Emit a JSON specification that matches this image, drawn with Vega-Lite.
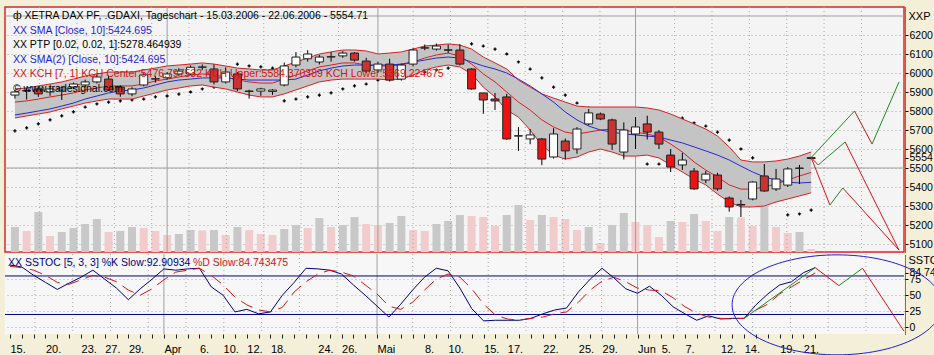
{
"$schema": "https://vega.github.io/schema/vega-lite/v6.json",
"background": "#F4EFD8",
"padding": {"left": 3, "top": 5, "right": 0, "bottom": 0},
"spacing": 2,
"bounds": "flush",
"config": {
  "font": "Liberation Sans",
  "view": {"stroke": null},
  "axis": {"labelFont": "Liberation Sans", "labelFontSize": 11, "labelColor": "#000000", "titleFont": "Liberation Sans", "titleFontSize": 11, "titleFontWeight": "normal", "titleColor": "#000000", "tickColor": "#000000", "domainColor": "#000000"}
},
"datasets": {
"bars": [
{"i":0,"o":5884,"h":5910,"l":5865,"c":5900,"t":"up","vol":100,"vt":"g","u":5916,"m":5847,"lo":5763,"s":5779,"sar":5695,"k":97,"d":95},
{"i":1,"o":5905,"h":5920,"l":5860,"c":5908,"t":"up","vol":84,"vt":"p","u":5921,"m":5853,"lo":5774,"s":5789,"sar":5711,"k":94,"d":93},
{"i":2,"o":5916,"h":5925,"l":5875,"c":5890,"t":"dn","vol":160,"vt":"g","u":5932,"m":5863,"lo":5784,"s":5800,"sar":5732,"k":81,"d":89},
{"i":3,"o":5900,"h":5925,"l":5880,"c":5916,"t":"up","vol":64,"vt":"p","u":5942,"m":5874,"lo":5795,"s":5811,"sar":5753,"k":70,"d":81},
{"i":4,"o":5911,"h":5930,"l":5858,"c":5921,"t":"up","vol":80,"vt":"g","u":5953,"m":5884,"lo":5811,"s":5826,"sar":5774,"k":59,"d":70},
{"i":5,"o":5926,"h":5950,"l":5915,"c":5942,"t":"up","vol":96,"vt":"g","u":5968,"m":5895,"lo":5826,"s":5842,"sar":5795,"k":69,"d":67},
{"i":6,"o":5937,"h":5965,"l":5925,"c":5953,"t":"up","vol":112,"vt":"g","u":5984,"m":5911,"lo":5842,"s":5863,"sar":5821,"k":78,"d":74},
{"i":7,"o":5953,"h":5990,"l":5945,"c":5979,"t":"up","vol":132,"vt":"g","u":5995,"m":5921,"lo":5853,"s":5879,"sar":5837,"k":89,"d":81},
{"i":8,"o":5968,"h":5985,"l":5905,"c":5911,"t":"dn","vol":80,"vt":"p","u":6005,"m":5932,"lo":5863,"s":5895,"sar":5847,"k":75,"d":78},
{"i":9,"o":5926,"h":5935,"l":5875,"c":5890,"t":"dn","vol":84,"vt":"g","u":6005,"m":5932,"lo":5863,"s":5905,"sar":5853,"k":61,"d":71},
{"i":10,"o":5890,"h":5925,"l":5878,"c":5916,"t":"up","vol":100,"vt":"g","u":6005,"m":5932,"lo":5863,"s":5911,"sar":5858,"k":43,"d":58},
{"i":11,"o":5937,"h":5998,"l":5930,"c":5990,"t":"up","vol":96,"vt":"p","u":6016,"m":5942,"lo":5879,"s":5921,"sar":5863,"k":60,"d":50},
{"i":12,"o":5968,"h":5985,"l":5950,"c":5970,"t":"up","vol":84,"vt":"p","u":6026,"m":5958,"lo":5895,"s":5937,"sar":5874,"k":75,"d":60},
{"i":13,"o":5975,"h":6005,"l":5965,"c":5995,"t":"up","vol":68,"vt":"p","u":6037,"m":5968,"lo":5911,"s":5953,"sar":5879,"k":91,"d":74},
{"i":14,"o":5995,"h":6025,"l":5985,"c":6010,"t":"up","vol":72,"vt":"g","u":6042,"m":5979,"lo":5921,"s":5963,"sar":5889,"k":89,"d":86},
{"i":15,"o":5995,"h":6040,"l":5990,"c":6030,"t":"up","vol":88,"vt":"g","u":6047,"m":5989,"lo":5932,"s":5968,"sar":5900,"k":91,"d":89},
{"i":16,"o":6030,"h":6045,"l":6015,"c":6032,"t":"up","vol":86,"vt":"p","u":6053,"m":5995,"lo":5937,"s":5974,"sar":5916,"k":92,"d":92},
{"i":17,"o":6021,"h":6045,"l":5940,"c":5953,"t":"dn","vol":88,"vt":"g","u":6047,"m":5989,"lo":5926,"s":5974,"sar":5926,"k":63,"d":81},
{"i":18,"o":5953,"h":6030,"l":5945,"c":6005,"t":"up","vol":68,"vt":"p","u":6037,"m":5979,"lo":5916,"s":5974,"sar":5937,"k":50,"d":66},
{"i":19,"o":5995,"h":6005,"l":5905,"c":5916,"t":"dn","vol":100,"vt":"g","u":6026,"m":5963,"lo":5900,"s":5968,"sar":6047,"k":24,"d":47},
{"i":20,"o":5905,"h":5912,"l":5865,"c":5903,"t":"dn","vol":88,"vt":"p","u":6021,"m":5953,"lo":5884,"s":5963,"sar":6037,"k":28,"d":35},
{"i":21,"o":5905,"h":5922,"l":5880,"c":5916,"t":"up","vol":72,"vt":"p","u":6016,"m":5947,"lo":5874,"s":5963,"sar":6032,"k":21,"d":27},
{"i":22,"o":5903,"h":5915,"l":5885,"c":5910,"t":"up","vol":68,"vt":"p","u":6016,"m":5947,"lo":5874,"s":5963,"sar":6026,"k":24,"d":24},
{"i":23,"o":5937,"h":6055,"l":5930,"c":6037,"t":"up","vol":92,"vt":"g","u":6037,"m":5968,"lo":5890,"s":5963,"sar":5853,"k":50,"d":31},
{"i":24,"o":6042,"h":6110,"l":6030,"c":6084,"t":"up","vol":108,"vt":"g","u":6058,"m":5989,"lo":5911,"s":5968,"sar":5863,"k":70,"d":55},
{"i":25,"o":6075,"h":6120,"l":6060,"c":6100,"t":"up","vol":96,"vt":"p","u":6079,"m":6011,"lo":5932,"s":5989,"sar":5874,"k":92,"d":71},
{"i":26,"o":6058,"h":6095,"l":6045,"c":6084,"t":"up","vol":136,"vt":"g","u":6100,"m":6032,"lo":5953,"s":6011,"sar":5884,"k":91,"d":83},
{"i":27,"o":6084,"h":6110,"l":6060,"c":6086,"t":"up","vol":100,"vt":"p","u":6111,"m":6042,"lo":5963,"s":6026,"sar":5895,"k":89,"d":89},
{"i":28,"o":6090,"h":6115,"l":6080,"c":6105,"t":"up","vol":108,"vt":"g","u":6121,"m":6053,"lo":5968,"s":6037,"sar":5916,"k":83,"d":86},
{"i":29,"o":6105,"h":6110,"l":6060,"c":6068,"t":"dn","vol":140,"vt":"g","u":6121,"m":6053,"lo":5968,"s":6042,"sar":5932,"k":66,"d":80},
{"i":30,"o":6063,"h":6080,"l":6000,"c":6010,"t":"dn","vol":112,"vt":"p","u":6116,"m":6042,"lo":5968,"s":6042,"sar":5942,"k":50,"d":66},
{"i":31,"o":6016,"h":6060,"l":6000,"c":6047,"t":"up","vol":108,"vt":"p","u":6100,"m":6037,"lo":5968,"s":6042,"sar":5963,"k":33,"d":52},
{"i":32,"o":6047,"h":6075,"l":5955,"c":5963,"t":"dn","vol":116,"vt":"g","u":6105,"m":6037,"lo":5963,"s":6042,"sar":5974,"k":16,"d":33},
{"i":33,"o":5968,"h":6050,"l":5960,"c":6042,"t":"up","vol":144,"vt":"g","u":6111,"m":6042,"lo":5968,"s":6047,"sar":5984,"k":36,"d":28},
{"i":34,"o":6047,"h":6130,"l":6035,"c":6121,"t":"up","vol":88,"vt":"p","u":6126,"m":6058,"lo":5989,"s":6058,"sar":5995,"k":58,"d":39},
{"i":35,"o":6131,"h":6150,"l":6120,"c":6133,"t":"up","vol":84,"vt":"p","u":6142,"m":6079,"lo":6016,"s":6068,"sar":6005,"k":78,"d":58},
{"i":36,"o":6126,"h":6155,"l":6118,"c":6142,"t":"up","vol":112,"vt":"g","u":6147,"m":6095,"lo":6032,"s":6079,"sar":6016,"k":92,"d":75},
{"i":37,"o":6122,"h":6150,"l":6105,"c":6120,"t":"dn","vol":124,"vt":"g","u":6153,"m":6105,"lo":6042,"s":6084,"sar":6026,"k":88,"d":83},
{"i":38,"o":6121,"h":6152,"l":6040,"c":6047,"t":"dn","vol":148,"vt":"g","u":6147,"m":6089,"lo":6032,"s":6079,"sar":null,"k":61,"d":78},
{"i":39,"o":6021,"h":6025,"l":5912,"c":5916,"t":"dn2","vol":144,"vt":"p","u":6126,"m":6047,"lo":5995,"s":6058,"sar":6153,"k":29,"d":60},
{"i":40,"o":5895,"h":5895,"l":5785,"c":5858,"t":"dn","vol":140,"vt":"p","u":6084,"m":5995,"lo":5926,"s":6037,"sar":6142,"k":10,"d":36},
{"i":41,"o":5863,"h":5895,"l":5805,"c":5853,"t":"dn","vol":104,"vt":"p","u":6053,"m":5953,"lo":5874,"s":6021,"sar":6126,"k":11,"d":19},
{"i":42,"o":5874,"h":5890,"l":5648,"c":5653,"t":"dn2","vol":148,"vt":"g","u":6021,"m":5900,"lo":5805,"s":6000,"sar":6100,"k":11,"d":13},
{"i":43,"o":5668,"h":5715,"l":5590,"c":5670,"t":"up","vol":188,"vt":"g","u":5963,"m":5847,"lo":5768,"s":5968,"sar":6058,"k":11,"d":11},
{"i":44,"o":5653,"h":5705,"l":5625,"c":5674,"t":"up","vol":128,"vt":"p","u":5926,"m":5805,"lo":5700,"s":5932,"sar":6021,"k":14,"d":14},
{"i":45,"o":5653,"h":5658,"l":5515,"c":5547,"t":"dn2","vol":148,"vt":"g","u":5890,"m":5753,"lo":5621,"s":5890,"sar":5974,"k":21,"d":16},
{"i":46,"o":5558,"h":5710,"l":5550,"c":5679,"t":"up","vol":140,"vt":"p","u":5868,"m":5716,"lo":5568,"s":5847,"sar":5926,"k":27,"d":21},
{"i":47,"o":5642,"h":5655,"l":5545,"c":5590,"t":"dn","vol":132,"vt":"p","u":5847,"m":5689,"lo":5547,"s":5795,"sar":5884,"k":30,"d":24},
{"i":48,"o":5600,"h":5715,"l":5575,"c":5705,"t":"up","vol":88,"vt":"p","u":5826,"m":5679,"lo":5558,"s":5753,"sar":5842,"k":55,"d":39},
{"i":49,"o":5732,"h":5810,"l":5725,"c":5790,"t":"up","vol":100,"vt":"g","u":5821,"m":5689,"lo":5584,"s":5721,"sar":5816,"k":75,"d":58},
{"i":50,"o":5784,"h":5792,"l":5752,"c":5758,"t":"dn","vol":36,"vt":"p","u":5821,"m":5700,"lo":5600,"s":5700,"sar":5789,"k":92,"d":72},
{"i":51,"o":5753,"h":5760,"l":5595,"c":5626,"t":"dn","vol":108,"vt":"g","u":5821,"m":5705,"lo":5584,"s":5689,"sar":5763,"k":77,"d":78},
{"i":52,"o":5584,"h":5740,"l":5545,"c":5700,"t":"up","vol":156,"vt":"g","u":5821,"m":5700,"lo":5563,"s":5679,"sar":5732,"k":60,"d":71},
{"i":53,"o":5679,"h":5768,"l":5600,"c":5716,"t":"up","vol":120,"vt":"p","u":5821,"m":5689,"lo":5563,"s":5674,"sar":5716,"k":53,"d":61},
{"i":54,"o":5732,"h":5775,"l":5650,"c":5689,"t":"dn","vol":108,"vt":"p","u":5816,"m":5679,"lo":5568,"s":5668,"sar":5521,"k":64,"d":58},
{"i":55,"o":5689,"h":5700,"l":5600,"c":5626,"t":"dn","vol":60,"vt":"p","u":5805,"m":5663,"lo":5553,"s":5663,"sar":5521,"k":50,"d":57},
{"i":56,"o":5568,"h":5600,"l":5479,"c":5505,"t":"dn2","vol":124,"vt":"g","u":5784,"m":5626,"lo":5516,"s":5647,"sar":5774,"k":32,"d":46},
{"i":57,"o":5516,"h":5580,"l":5490,"c":5542,"t":"up","vol":120,"vt":"p","u":5758,"m":5584,"lo":5479,"s":5632,"sar":5763,"k":21,"d":32},
{"i":58,"o":5484,"h":5500,"l":5385,"c":5390,"t":"dn2","vol":152,"vt":"g","u":5732,"m":5532,"lo":5442,"s":5611,"sar":5737,"k":11,"d":22},
{"i":59,"o":5437,"h":5485,"l":5420,"c":5468,"t":"up","vol":124,"vt":"p","u":5705,"m":5489,"lo":5411,"s":5590,"sar":5721,"k":18,"d":16},
{"i":60,"o":5463,"h":5475,"l":5380,"c":5390,"t":"dn","vol":84,"vt":"p","u":5668,"m":5453,"lo":5363,"s":5568,"sar":5689,"k":13,"d":14},
{"i":61,"o":5342,"h":5350,"l":5270,"c":5295,"t":"dn2","vol":140,"vt":"g","u":5611,"m":5411,"lo":5321,"s":5542,"sar":5647,"k":14,"d":13},
{"i":62,"o":5305,"h":5332,"l":5242,"c":5308,"t":"up","vol":138,"vt":"p","u":5542,"m":5389,"lo":5295,"s":5510,"sar":5600,"k":14,"d":14},
{"i":63,"o":5337,"h":5430,"l":5330,"c":5426,"t":"up","vol":104,"vt":"p","u":5532,"m":5389,"lo":5295,"s":5479,"sar":5553,"k":35,"d":27},
{"i":64,"o":5458,"h":5521,"l":5375,"c":5379,"t":"dn","vol":184,"vt":"g","u":5532,"m":5400,"lo":5300,"s":5453,"sar":null,"k":52,"d":36},
{"i":65,"o":5390,"h":5495,"l":5379,"c":5442,"t":"up","vol":100,"vt":"p","u":5537,"m":5416,"lo":5321,"s":5437,"sar":null,"k":66,"d":52},
{"i":66,"o":5410,"h":5505,"l":5400,"c":5495,"t":"up","vol":76,"vt":"p","u":5547,"m":5437,"lo":5337,"s":5426,"sar":5253,"k":71,"d":63},
{"i":67,"o":5498,"h":5516,"l":5416,"c":5500,"t":"up","vol":80,"vt":"g","u":5563,"m":5458,"lo":5353,"s":5421,"sar":5258,"k":85,"d":74},
{"i":68,"o":5550,"h":5560,"l":5545,"c":5554.71,"t":"up","vol":12,"vt":"p","u":5584.37,"m":5476.8,"lo":5369.22,"s":5424.7,"sar":5278.46,"k":92.91,"d":84.74}
],
"fcp": [
{"seg":"a1","dir":"up","i":68,"p":5555},{"seg":"a1","dir":"up","i":71.7,"p":5800},
{"seg":"a2","dir":"dn","i":71.7,"p":5800},{"seg":"a2","dir":"dn","i":73.2,"p":5626},
{"seg":"a3","dir":"up","i":73.2,"p":5626},{"seg":"a3","dir":"up","i":75.5,"p":5953},
{"seg":"b1","dir":"dn","i":68,"p":5555},{"seg":"b1","dir":"dn","i":68.6,"p":5516},
{"seg":"b2","dir":"up","i":68.6,"p":5516},{"seg":"b2","dir":"up","i":70.9,"p":5637},
{"seg":"b3","dir":"dn","i":70.9,"p":5637},{"seg":"b3","dir":"dn","i":75.5,"p":5068},
{"seg":"c1","dir":"dn","i":68,"p":5555},{"seg":"c1","dir":"dn","i":69.6,"p":5305},
{"seg":"c2","dir":"up","i":69.6,"p":5305},{"seg":"c2","dir":"up","i":70.7,"p":5395},
{"seg":"c3","dir":"dn","i":70.7,"p":5395},{"seg":"c3","dir":"dn","i":75.5,"p":5068}
],
"fcs": [
{"seg":"s1","dir":"up","i":62,"v":14},{"seg":"s1","dir":"up","i":68,"v":92.91},
{"seg":"s2","dir":"dn","i":68,"v":92.91},{"seg":"s2","dir":"dn","i":70,"v":65},
{"seg":"s3","dir":"up","i":70,"v":65},{"seg":"s3","dir":"up","i":72,"v":92},
{"seg":"s4","dir":"dn","i":72,"v":92},{"seg":"s4","dir":"dn","i":75.5,"v":-6}
],
"legendtxt": [
{"line":0,"k":"k","t":"ф XETRA DAX PF, .GDAXI, Tageschart - 15.03.2006 - 22.06.2006 - 5554.71"},
{"line":1,"k":"b","t":"XX SMA [Close, 10]:5424.695"},
{"line":2,"k":"k","t":"XX PTP [0.02, 0.02, 1]:5278.464939"},
{"line":3,"k":"b","t":"XX SMA(2) [Close, 10]:5424.695"},
{"line":4,"k":"r","t":"XX KCH [7, 1] KCH Center:5476.797532 KCH Upper:5584.370389 KCH Lower:5369.224675"},
{"line":5,"k":"k","t":"© www.tradesignal.com"}
],
"months": [{"i":13},{"i":31},{"i":53}],
"vgrid": [{"i":2.11},{"i":5.3},{"i":8.49},{"i":11.68},{"i":14.87},{"i":18.06},{"i":21.25},{"i":24.44},{"i":27.63},{"i":34.01},{"i":37.2},{"i":40.39},{"i":43.58},{"i":46.77},{"i":49.96},{"i":56.34},{"i":59.53},{"i":62.72},{"i":65.91},{"i":69.1},{"i":72.29}]
},
"vconcat": [
{
 "width": 899, "height": 245,
 "view": {"fill": "#F4F4F4", "stroke": "#D42828", "strokeWidth": 1.5},
 "layer": [
  {
   "data": {"name": "bars"},
   "mark": {"type": "bar", "width": 8},
   "encoding": {
     "x": {"field": "i", "type": "quantitative", "scale": {"domain": [-0.42, 75.5], "nice": false, "zero": false}, "axis": null},
     "y": {"field": "vol", "type": "quantitative", "scale": {"domain": [0, 980], "nice": false}, "axis": null},
     "fill": {"field": "vt", "type": "nominal", "scale": {"domain": ["g", "p"], "range": ["#C8C8C8", "#F0CCCC"]}, "legend": null}
   }
  },
  {
   "layer": [
    {
     "data": {"name": "months"},
     "mark": {"type": "rule", "color": "#A0A0A0", "strokeWidth": 1},
     "encoding": {"x": {"field": "i", "type": "quantitative", "scale": {"domain": [-0.42, 75.5], "nice": false, "zero": false}, "axis": null}}
    },
    {
     "data": {"name": "vgrid"},
     "mark": {"type": "rule", "color": "#A8A8A8", "strokeWidth": 1, "strokeDash": [1, 3]},
     "encoding": {"x": {"field": "i", "type": "quantitative", "scale": {"domain": [-0.42, 75.5], "nice": false, "zero": false}, "axis": null}}
    },
    {
     "data": {"values": [{"p": 5500}, {"p": 6300}]},
     "mark": {"type": "rule", "color": "#A0A0A0", "strokeWidth": 1},
     "encoding": {"y": {"field": "p", "type": "quantitative", "scale": {"domain": [5057.9, 6347.4], "nice": false, "zero": false},
       "axis": {"orient": "right", "values": [5100, 5200, 5300, 5400, 5500, 5554.71, 5600, 5700, 5800, 5900, 6000, 6100, 6200], "labelExpr": "datum.value == 5554.71 ? '5554' : format(datum.value, 'd')", "grid": true, "gridDash": [1, 3], "gridColor": "#A8A8A8", "gridOpacity": {"condition": {"test": "datum.value == 5554.71", "value": 0}, "value": 1}, "tickSize": 3, "offset": 1, "labelPadding": 1, "labelFontSize": 10.5, "labelOverlap": false, "labelFlush": false, "labelBound": false, "domain": true, "domainDash": [1, 1], "title": "XXP", "titleAngle": 0, "titleAlign": "left", "titleBaseline": "middle", "titleX": 3, "titleY": 9}}}
    },
    {
     "data": {"name": "bars"},
     "mark": {"type": "point", "shape": "cross", "filled": true, "size": 10, "color": "#000000", "opacity": 1},
     "encoding": {"x": {"field": "i", "type": "quantitative", "scale": {"domain": [-0.42, 75.5], "nice": false, "zero": false}, "axis": null},
       "y": {"field": "sar", "type": "quantitative", "scale": {"domain": [5057.9, 6347.4], "nice": false, "zero": false},
       "axis": {"orient": "right", "values": [5100, 5200, 5300, 5400, 5500, 5554.71, 5600, 5700, 5800, 5900, 6000, 6100, 6200], "labelExpr": "datum.value == 5554.71 ? '5554' : format(datum.value, 'd')", "grid": true, "gridDash": [1, 3], "gridColor": "#A8A8A8", "gridOpacity": {"condition": {"test": "datum.value == 5554.71", "value": 0}, "value": 1}, "tickSize": 3, "offset": 1, "labelPadding": 1, "labelFontSize": 10.5, "labelOverlap": false, "labelFlush": false, "labelBound": false, "domain": true, "domainDash": [1, 1], "title": "XXP", "titleAngle": 0, "titleAlign": "left", "titleBaseline": "middle", "titleX": 3, "titleY": 9}}}
    },
    {
     "data": {"name": "bars"},
     "mark": {"type": "area", "color": "#C4C4C4", "opacity": 1},
     "encoding": {"x": {"field": "i", "type": "quantitative", "scale": {"domain": [-0.42, 75.5], "nice": false, "zero": false}, "axis": null},
       "y": {"field": "lo", "type": "quantitative", "scale": {"domain": [5057.9, 6347.4], "nice": false, "zero": false},
       "axis": {"orient": "right", "values": [5100, 5200, 5300, 5400, 5500, 5554.71, 5600, 5700, 5800, 5900, 6000, 6100, 6200], "labelExpr": "datum.value == 5554.71 ? '5554' : format(datum.value, 'd')", "grid": true, "gridDash": [1, 3], "gridColor": "#A8A8A8", "gridOpacity": {"condition": {"test": "datum.value == 5554.71", "value": 0}, "value": 1}, "tickSize": 3, "offset": 1, "labelPadding": 1, "labelFontSize": 10.5, "labelOverlap": false, "labelFlush": false, "labelBound": false, "domain": true, "domainDash": [1, 1], "title": "XXP", "titleAngle": 0, "titleAlign": "left", "titleBaseline": "middle", "titleX": 3, "titleY": 9}},
       "y2": {"field": "u"}}
    },
    {
     "data": {"name": "bars"},
     "mark": {"type": "line", "color": "#D82020", "strokeWidth": 1},
     "encoding": {"x": {"field": "i", "type": "quantitative", "scale": {"domain": [-0.42, 75.5], "nice": false, "zero": false}, "axis": null},
       "y": {"field": "u", "type": "quantitative", "scale": {"domain": [5057.9, 6347.4], "nice": false, "zero": false},
       "axis": {"orient": "right", "values": [5100, 5200, 5300, 5400, 5500, 5554.71, 5600, 5700, 5800, 5900, 6000, 6100, 6200], "labelExpr": "datum.value == 5554.71 ? '5554' : format(datum.value, 'd')", "grid": true, "gridDash": [1, 3], "gridColor": "#A8A8A8", "gridOpacity": {"condition": {"test": "datum.value == 5554.71", "value": 0}, "value": 1}, "tickSize": 3, "offset": 1, "labelPadding": 1, "labelFontSize": 10.5, "labelOverlap": false, "labelFlush": false, "labelBound": false, "domain": true, "domainDash": [1, 1], "title": "XXP", "titleAngle": 0, "titleAlign": "left", "titleBaseline": "middle", "titleX": 3, "titleY": 9}}}
    },
    {
     "data": {"name": "bars"},
     "mark": {"type": "line", "color": "#D82020", "strokeWidth": 1},
     "encoding": {"x": {"field": "i", "type": "quantitative", "scale": {"domain": [-0.42, 75.5], "nice": false, "zero": false}, "axis": null},
       "y": {"field": "lo", "type": "quantitative", "scale": {"domain": [5057.9, 6347.4], "nice": false, "zero": false},
       "axis": {"orient": "right", "values": [5100, 5200, 5300, 5400, 5500, 5554.71, 5600, 5700, 5800, 5900, 6000, 6100, 6200], "labelExpr": "datum.value == 5554.71 ? '5554' : format(datum.value, 'd')", "grid": true, "gridDash": [1, 3], "gridColor": "#A8A8A8", "gridOpacity": {"condition": {"test": "datum.value == 5554.71", "value": 0}, "value": 1}, "tickSize": 3, "offset": 1, "labelPadding": 1, "labelFontSize": 10.5, "labelOverlap": false, "labelFlush": false, "labelBound": false, "domain": true, "domainDash": [1, 1], "title": "XXP", "titleAngle": 0, "titleAlign": "left", "titleBaseline": "middle", "titleX": 3, "titleY": 9}}}
    },
    {
     "data": {"name": "bars"},
     "mark": {"type": "line", "color": "#D82020", "strokeWidth": 1},
     "encoding": {"x": {"field": "i", "type": "quantitative", "scale": {"domain": [-0.42, 75.5], "nice": false, "zero": false}, "axis": null},
       "y": {"field": "m", "type": "quantitative", "scale": {"domain": [5057.9, 6347.4], "nice": false, "zero": false},
       "axis": {"orient": "right", "values": [5100, 5200, 5300, 5400, 5500, 5554.71, 5600, 5700, 5800, 5900, 6000, 6100, 6200], "labelExpr": "datum.value == 5554.71 ? '5554' : format(datum.value, 'd')", "grid": true, "gridDash": [1, 3], "gridColor": "#A8A8A8", "gridOpacity": {"condition": {"test": "datum.value == 5554.71", "value": 0}, "value": 1}, "tickSize": 3, "offset": 1, "labelPadding": 1, "labelFontSize": 10.5, "labelOverlap": false, "labelFlush": false, "labelBound": false, "domain": true, "domainDash": [1, 1], "title": "XXP", "titleAngle": 0, "titleAlign": "left", "titleBaseline": "middle", "titleX": 3, "titleY": 9}}}
    },
    {
     "data": {"name": "bars"},
     "mark": {"type": "line", "color": "#2828D0", "strokeWidth": 1},
     "encoding": {"x": {"field": "i", "type": "quantitative", "scale": {"domain": [-0.42, 75.5], "nice": false, "zero": false}, "axis": null},
       "y": {"field": "s", "type": "quantitative", "scale": {"domain": [5057.9, 6347.4], "nice": false, "zero": false},
       "axis": {"orient": "right", "values": [5100, 5200, 5300, 5400, 5500, 5554.71, 5600, 5700, 5800, 5900, 6000, 6100, 6200], "labelExpr": "datum.value == 5554.71 ? '5554' : format(datum.value, 'd')", "grid": true, "gridDash": [1, 3], "gridColor": "#A8A8A8", "gridOpacity": {"condition": {"test": "datum.value == 5554.71", "value": 0}, "value": 1}, "tickSize": 3, "offset": 1, "labelPadding": 1, "labelFontSize": 10.5, "labelOverlap": false, "labelFlush": false, "labelBound": false, "domain": true, "domainDash": [1, 1], "title": "XXP", "titleAngle": 0, "titleAlign": "left", "titleBaseline": "middle", "titleX": 3, "titleY": 9}}}
    },
    {
     "data": {"name": "bars"},
     "mark": {"type": "rule", "color": "#000000", "strokeWidth": 1},
     "encoding": {"x": {"field": "i", "type": "quantitative", "scale": {"domain": [-0.42, 75.5], "nice": false, "zero": false}, "axis": null},
       "y": {"field": "l", "type": "quantitative", "scale": {"domain": [5057.9, 6347.4], "nice": false, "zero": false},
       "axis": {"orient": "right", "values": [5100, 5200, 5300, 5400, 5500, 5554.71, 5600, 5700, 5800, 5900, 6000, 6100, 6200], "labelExpr": "datum.value == 5554.71 ? '5554' : format(datum.value, 'd')", "grid": true, "gridDash": [1, 3], "gridColor": "#A8A8A8", "gridOpacity": {"condition": {"test": "datum.value == 5554.71", "value": 0}, "value": 1}, "tickSize": 3, "offset": 1, "labelPadding": 1, "labelFontSize": 10.5, "labelOverlap": false, "labelFlush": false, "labelBound": false, "domain": true, "domainDash": [1, 1], "title": "XXP", "titleAngle": 0, "titleAlign": "left", "titleBaseline": "middle", "titleX": 3, "titleY": 9}},
       "y2": {"field": "h"}}
    },
    {
     "data": {"name": "bars"},
     "mark": {"type": "bar", "width": 8, "stroke": "#202020", "strokeWidth": 1},
     "encoding": {"x": {"field": "i", "type": "quantitative", "scale": {"domain": [-0.42, 75.5], "nice": false, "zero": false}, "axis": null},
       "y": {"field": "o", "type": "quantitative", "scale": {"domain": [5057.9, 6347.4], "nice": false, "zero": false},
       "axis": {"orient": "right", "values": [5100, 5200, 5300, 5400, 5500, 5554.71, 5600, 5700, 5800, 5900, 6000, 6100, 6200], "labelExpr": "datum.value == 5554.71 ? '5554' : format(datum.value, 'd')", "grid": true, "gridDash": [1, 3], "gridColor": "#A8A8A8", "gridOpacity": {"condition": {"test": "datum.value == 5554.71", "value": 0}, "value": 1}, "tickSize": 3, "offset": 1, "labelPadding": 1, "labelFontSize": 10.5, "labelOverlap": false, "labelFlush": false, "labelBound": false, "domain": true, "domainDash": [1, 1], "title": "XXP", "titleAngle": 0, "titleAlign": "left", "titleBaseline": "middle", "titleX": 3, "titleY": 9}},
       "y2": {"field": "c"},
       "fill": {"field": "t", "type": "nominal", "scale": {"domain": ["up", "dn", "dn2"], "range": ["#FFFFFF", "#CD3232", "#EE1111"]}, "legend": null}}
    },
    {
     "data": {"name": "fcp"},
     "mark": {"type": "line", "strokeWidth": 1},
     "encoding": {"x": {"field": "i", "type": "quantitative", "scale": {"domain": [-0.42, 75.5], "nice": false, "zero": false}, "axis": null},
       "y": {"field": "p", "type": "quantitative", "scale": {"domain": [5057.9, 6347.4], "nice": false, "zero": false},
       "axis": {"orient": "right", "values": [5100, 5200, 5300, 5400, 5500, 5554.71, 5600, 5700, 5800, 5900, 6000, 6100, 6200], "labelExpr": "datum.value == 5554.71 ? '5554' : format(datum.value, 'd')", "grid": true, "gridDash": [1, 3], "gridColor": "#A8A8A8", "gridOpacity": {"condition": {"test": "datum.value == 5554.71", "value": 0}, "value": 1}, "tickSize": 3, "offset": 1, "labelPadding": 1, "labelFontSize": 10.5, "labelOverlap": false, "labelFlush": false, "labelBound": false, "domain": true, "domainDash": [1, 1], "title": "XXP", "titleAngle": 0, "titleAlign": "left", "titleBaseline": "middle", "titleX": 3, "titleY": 9}},
       "detail": {"field": "seg"},
       "stroke": {"field": "dir", "type": "nominal", "scale": {"domain": ["up", "dn"], "range": ["#1F8A1F", "#D41414"]}, "legend": null}}
    }
   ]
  },
  {
   "data": {"name": "legendtxt"},
   "mark": {"type": "text", "align": "left", "baseline": "middle", "fontSize": 10.5, "font": "Liberation Sans"},
   "encoding": {
     "x": {"datum": -0.17, "type": "quantitative", "scale": {"domain": [-0.42, 75.5], "nice": false, "zero": false}, "axis": null},
     "y": {"field": "line", "type": "ordinal", "scale": {"type": "point", "domain": [0, 1, 2, 3, 4, 5], "range": [9, 82], "padding": 0}, "axis": null},
     "text": {"field": "t"},
     "fill": {"field": "k", "type": "nominal", "scale": {"domain": ["k", "b", "r"], "range": ["#000000", "#1E1ED2", "#D41414"]}, "legend": null}
   }
  }
 ],
 "resolve": {"scale": {"y": "independent", "fill": "independent"}}
},
{
 "width": 899, "height": 80,
 "view": {"fill": "#F7F7F7", "stroke": null},
 "layer": [
  {
   "data": {"name": "months"},
   "mark": {"type": "rule", "color": "#A0A0A0", "strokeWidth": 1},
   "encoding": {"x": {"field": "i", "type": "quantitative", "scale": {"domain": [-0.42, 75.5], "nice": false, "zero": false},
     "axis": {"orient": "bottom", "values": [0,1,2,3,4,5,6,7,8,9,10,11,12,13,14,15,16,17,18,19,20,21,22,23,24,25,26,27,28,29,30,31,32,33,34,35,36,37,38,39,40,41,42,43,44,45,46,47,48,49,50,51,52,53,54,55,56,57,58,59,60,61,62,63,64,65,66,67,68], "labelExpr": "['15.','','','20.','','','23.','','27.','','29.','','','Apr','','','6.','','10.','','12.','','18.','','','','24.','','26.','','','Mai','','','','8.','','10.','','','15.','','17.','','','22.','','','25.','','29.','','','Jun','','5.','','7.','','','12.','','14.','','','19.','','21.',''][datum.value]", "grid": false, "domain": false, "ticks": true, "tickSize": 4, "tickColor": "#202020", "labelAlign": "left", "labelBaseline": "top", "labelPadding": 5, "labelOverlap": false, "labelBound": false, "labelFlush": false, "title": null}}}
  },
  {
   "data": {"name": "vgrid"},
   "mark": {"type": "rule", "color": "#A8A8A8", "strokeWidth": 1, "strokeDash": [1, 3]},
   "encoding": {"x": {"field": "i", "type": "quantitative", "scale": {"domain": [-0.42, 75.5], "nice": false, "zero": false},
     "axis": {"orient": "bottom", "values": [0,1,2,3,4,5,6,7,8,9,10,11,12,13,14,15,16,17,18,19,20,21,22,23,24,25,26,27,28,29,30,31,32,33,34,35,36,37,38,39,40,41,42,43,44,45,46,47,48,49,50,51,52,53,54,55,56,57,58,59,60,61,62,63,64,65,66,67,68], "labelExpr": "['15.','','','20.','','','23.','','27.','','29.','','','Apr','','','6.','','10.','','12.','','18.','','','','24.','','26.','','','Mai','','','','8.','','10.','','','15.','','17.','','','22.','','','25.','','29.','','','Jun','','5.','','7.','','','12.','','14.','','','19.','','21.',''][datum.value]", "grid": false, "domain": false, "ticks": true, "tickSize": 4, "tickColor": "#202020", "labelAlign": "left", "labelBaseline": "top", "labelPadding": 5, "labelOverlap": false, "labelBound": false, "labelFlush": false, "title": null}}}
  },
  {
   "data": {"values": [{"v": 80}, {"v": 20}]},
   "mark": {"type": "rule", "color": "#000080", "strokeWidth": 1},
   "encoding": {"y": {"field": "v", "type": "quantitative", "scale": {"domain": [-10.4, 114.2], "nice": false, "zero": false},
     "axis": {"orient": "right", "values": [0, 25, 50, 75, 84.74], "labelExpr": "datum.value == 84.74 ? '84.74' : format(datum.value, 'd')", "grid": true, "gridDash": [1, 3], "gridColor": "#A8A8A8", "gridOpacity": {"condition": {"test": "datum.value == 84.74", "value": 0}, "value": 1}, "tickSize": 3, "offset": 1, "labelPadding": 1, "labelFontSize": 10.5, "labelOverlap": false, "labelFlush": false, "labelBound": false, "domain": true, "domainDash": [1, 1], "title": "SSTOC", "titleAngle": 0, "titleAlign": "left", "titleBaseline": "middle", "titleX": 3, "titleY": 6}}}
  },
  {
   "data": {"name": "bars"},
   "mark": {"type": "line", "color": "#000080", "strokeWidth": 1},
   "encoding": {"x": {"field": "i", "type": "quantitative", "scale": {"domain": [-0.42, 75.5], "nice": false, "zero": false},
     "axis": {"orient": "bottom", "values": [0,1,2,3,4,5,6,7,8,9,10,11,12,13,14,15,16,17,18,19,20,21,22,23,24,25,26,27,28,29,30,31,32,33,34,35,36,37,38,39,40,41,42,43,44,45,46,47,48,49,50,51,52,53,54,55,56,57,58,59,60,61,62,63,64,65,66,67,68], "labelExpr": "['15.','','','20.','','','23.','','27.','','29.','','','Apr','','','6.','','10.','','12.','','18.','','','','24.','','26.','','','Mai','','','','8.','','10.','','','15.','','17.','','','22.','','','25.','','29.','','','Jun','','5.','','7.','','','12.','','14.','','','19.','','21.',''][datum.value]", "grid": false, "domain": false, "ticks": true, "tickSize": 4, "tickColor": "#202020", "labelAlign": "left", "labelBaseline": "top", "labelPadding": 5, "labelOverlap": false, "labelBound": false, "labelFlush": false, "title": null}},
     "y": {"field": "k", "type": "quantitative", "scale": {"domain": [-10.4, 114.2], "nice": false, "zero": false},
     "axis": {"orient": "right", "values": [0, 25, 50, 75, 84.74], "labelExpr": "datum.value == 84.74 ? '84.74' : format(datum.value, 'd')", "grid": true, "gridDash": [1, 3], "gridColor": "#A8A8A8", "gridOpacity": {"condition": {"test": "datum.value == 84.74", "value": 0}, "value": 1}, "tickSize": 3, "offset": 1, "labelPadding": 1, "labelFontSize": 10.5, "labelOverlap": false, "labelFlush": false, "labelBound": false, "domain": true, "domainDash": [1, 1], "title": "SSTOC", "titleAngle": 0, "titleAlign": "left", "titleBaseline": "middle", "titleX": 3, "titleY": 6}}}
  },
  {
   "data": {"name": "bars"},
   "mark": {"type": "line", "color": "#D41414", "strokeWidth": 1, "strokeDash": [13, 7]},
   "encoding": {"x": {"field": "i", "type": "quantitative", "scale": {"domain": [-0.42, 75.5], "nice": false, "zero": false},
     "axis": {"orient": "bottom", "values": [0,1,2,3,4,5,6,7,8,9,10,11,12,13,14,15,16,17,18,19,20,21,22,23,24,25,26,27,28,29,30,31,32,33,34,35,36,37,38,39,40,41,42,43,44,45,46,47,48,49,50,51,52,53,54,55,56,57,58,59,60,61,62,63,64,65,66,67,68], "labelExpr": "['15.','','','20.','','','23.','','27.','','29.','','','Apr','','','6.','','10.','','12.','','18.','','','','24.','','26.','','','Mai','','','','8.','','10.','','','15.','','17.','','','22.','','','25.','','29.','','','Jun','','5.','','7.','','','12.','','14.','','','19.','','21.',''][datum.value]", "grid": false, "domain": false, "ticks": true, "tickSize": 4, "tickColor": "#202020", "labelAlign": "left", "labelBaseline": "top", "labelPadding": 5, "labelOverlap": false, "labelBound": false, "labelFlush": false, "title": null}},
     "y": {"field": "d", "type": "quantitative", "scale": {"domain": [-10.4, 114.2], "nice": false, "zero": false},
     "axis": {"orient": "right", "values": [0, 25, 50, 75, 84.74], "labelExpr": "datum.value == 84.74 ? '84.74' : format(datum.value, 'd')", "grid": true, "gridDash": [1, 3], "gridColor": "#A8A8A8", "gridOpacity": {"condition": {"test": "datum.value == 84.74", "value": 0}, "value": 1}, "tickSize": 3, "offset": 1, "labelPadding": 1, "labelFontSize": 10.5, "labelOverlap": false, "labelFlush": false, "labelBound": false, "domain": true, "domainDash": [1, 1], "title": "SSTOC", "titleAngle": 0, "titleAlign": "left", "titleBaseline": "middle", "titleX": 3, "titleY": 6}}}
  },
  {
   "data": {"name": "fcs"},
   "mark": {"type": "line", "strokeWidth": 1},
   "encoding": {"x": {"field": "i", "type": "quantitative", "scale": {"domain": [-0.42, 75.5], "nice": false, "zero": false},
     "axis": {"orient": "bottom", "values": [0,1,2,3,4,5,6,7,8,9,10,11,12,13,14,15,16,17,18,19,20,21,22,23,24,25,26,27,28,29,30,31,32,33,34,35,36,37,38,39,40,41,42,43,44,45,46,47,48,49,50,51,52,53,54,55,56,57,58,59,60,61,62,63,64,65,66,67,68], "labelExpr": "['15.','','','20.','','','23.','','27.','','29.','','','Apr','','','6.','','10.','','12.','','18.','','','','24.','','26.','','','Mai','','','','8.','','10.','','','15.','','17.','','','22.','','','25.','','29.','','','Jun','','5.','','7.','','','12.','','14.','','','19.','','21.',''][datum.value]", "grid": false, "domain": false, "ticks": true, "tickSize": 4, "tickColor": "#202020", "labelAlign": "left", "labelBaseline": "top", "labelPadding": 5, "labelOverlap": false, "labelBound": false, "labelFlush": false, "title": null}},
     "y": {"field": "v", "type": "quantitative", "scale": {"domain": [-10.4, 114.2], "nice": false, "zero": false},
     "axis": {"orient": "right", "values": [0, 25, 50, 75, 84.74], "labelExpr": "datum.value == 84.74 ? '84.74' : format(datum.value, 'd')", "grid": true, "gridDash": [1, 3], "gridColor": "#A8A8A8", "gridOpacity": {"condition": {"test": "datum.value == 84.74", "value": 0}, "value": 1}, "tickSize": 3, "offset": 1, "labelPadding": 1, "labelFontSize": 10.5, "labelOverlap": false, "labelFlush": false, "labelBound": false, "domain": true, "domainDash": [1, 1], "title": "SSTOC", "titleAngle": 0, "titleAlign": "left", "titleBaseline": "middle", "titleX": 3, "titleY": 6}},
     "detail": {"field": "seg"},
     "stroke": {"field": "dir", "type": "nominal", "scale": {"domain": ["up", "dn"], "range": ["#1F8A1F", "#D41414"]}, "legend": null}}
  },
  {
   "data": {"values": [{"i": 69.85, "v": 35}]},
   "mark": {"type": "point", "shape": "M -1 0 A 1 0.476 0 1 1 1 0 A 1 0.476 0 1 1 -1 0 Z", "size": 44100, "filled": false, "color": "#1E1ED2", "strokeWidth": 1, "opacity": 1},
   "encoding": {"x": {"field": "i", "type": "quantitative", "scale": {"domain": [-0.42, 75.5], "nice": false, "zero": false},
     "axis": {"orient": "bottom", "values": [0,1,2,3,4,5,6,7,8,9,10,11,12,13,14,15,16,17,18,19,20,21,22,23,24,25,26,27,28,29,30,31,32,33,34,35,36,37,38,39,40,41,42,43,44,45,46,47,48,49,50,51,52,53,54,55,56,57,58,59,60,61,62,63,64,65,66,67,68], "labelExpr": "['15.','','','20.','','','23.','','27.','','29.','','','Apr','','','6.','','10.','','12.','','18.','','','','24.','','26.','','','Mai','','','','8.','','10.','','','15.','','17.','','','22.','','','25.','','29.','','','Jun','','5.','','7.','','','12.','','14.','','','19.','','21.',''][datum.value]", "grid": false, "domain": false, "ticks": true, "tickSize": 4, "tickColor": "#202020", "labelAlign": "left", "labelBaseline": "top", "labelPadding": 5, "labelOverlap": false, "labelBound": false, "labelFlush": false, "title": null}},
     "y": {"field": "v", "type": "quantitative", "scale": {"domain": [-10.4, 114.2], "nice": false, "zero": false},
     "axis": {"orient": "right", "values": [0, 25, 50, 75, 84.74], "labelExpr": "datum.value == 84.74 ? '84.74' : format(datum.value, 'd')", "grid": true, "gridDash": [1, 3], "gridColor": "#A8A8A8", "gridOpacity": {"condition": {"test": "datum.value == 84.74", "value": 0}, "value": 1}, "tickSize": 3, "offset": 1, "labelPadding": 1, "labelFontSize": 10.5, "labelOverlap": false, "labelFlush": false, "labelBound": false, "domain": true, "domainDash": [1, 1], "title": "SSTOC", "titleAngle": 0, "titleAlign": "left", "titleBaseline": "middle", "titleX": 3, "titleY": 6}}}
  },
  {
   "data": {"values": [{"t": "XX SSTOC [5, 3, 3] %K Slow:92.90934", "i": -0.17, "v": 100}, {"t": "%D Slow:84.743475", "i": 15.45, "v": 100}]},
   "mark": {"type": "text", "align": "left", "baseline": "middle", "fontSize": 10.5},
   "encoding": {"x": {"field": "i", "type": "quantitative", "scale": {"domain": [-0.42, 75.5], "nice": false, "zero": false},
     "axis": {"orient": "bottom", "values": [0,1,2,3,4,5,6,7,8,9,10,11,12,13,14,15,16,17,18,19,20,21,22,23,24,25,26,27,28,29,30,31,32,33,34,35,36,37,38,39,40,41,42,43,44,45,46,47,48,49,50,51,52,53,54,55,56,57,58,59,60,61,62,63,64,65,66,67,68], "labelExpr": "['15.','','','20.','','','23.','','27.','','29.','','','Apr','','','6.','','10.','','12.','','18.','','','','24.','','26.','','','Mai','','','','8.','','10.','','','15.','','17.','','','22.','','','25.','','29.','','','Jun','','5.','','7.','','','12.','','14.','','','19.','','21.',''][datum.value]", "grid": false, "domain": false, "ticks": true, "tickSize": 4, "tickColor": "#202020", "labelAlign": "left", "labelBaseline": "top", "labelPadding": 5, "labelOverlap": false, "labelBound": false, "labelFlush": false, "title": null}},
     "y": {"field": "v", "type": "quantitative", "scale": {"domain": [-10.4, 114.2], "nice": false, "zero": false},
     "axis": {"orient": "right", "values": [0, 25, 50, 75, 84.74], "labelExpr": "datum.value == 84.74 ? '84.74' : format(datum.value, 'd')", "grid": true, "gridDash": [1, 3], "gridColor": "#A8A8A8", "gridOpacity": {"condition": {"test": "datum.value == 84.74", "value": 0}, "value": 1}, "tickSize": 3, "offset": 1, "labelPadding": 1, "labelFontSize": 10.5, "labelOverlap": false, "labelFlush": false, "labelBound": false, "domain": true, "domainDash": [1, 1], "title": "SSTOC", "titleAngle": 0, "titleAlign": "left", "titleBaseline": "middle", "titleX": 3, "titleY": 6}},
     "text": {"field": "t"},
     "fill": {"field": "t", "type": "nominal", "scale": {"domain": ["XX SSTOC [5, 3, 3] %K Slow:92.90934", "%D Slow:84.743475"], "range": ["#000080", "#D41414"]}, "legend": null}}
  }
 ],
 "resolve": {"scale": {"fill": "independent", "stroke": "independent"}}
}
]
}
